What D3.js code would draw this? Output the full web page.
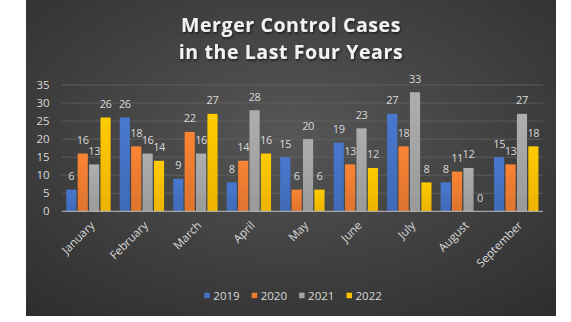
<!DOCTYPE html>
<html>
<head>
<meta charset="utf-8">
<script src="https://cdn.jsdelivr.net/npm/d3@7"></script>
<style>
  body { margin: 0; background: #fff; }
  text { font-family: "Open Sans", sans-serif; }
</style>
</head>
<body>
<div id="chart"></div>
<script>
var months = ["January", "February", "March", "April", "May", "June", "July", "August", "September"];
var years = ["2019", "2020", "2021", "2022"];
var cases2019 = [6, 26, 9, 8, 15, 19, 27, 8, 15];
var cases2020 = [16, 18, 22, 14, 6, 13, 18, 11, 13];
var cases2021 = [13, 16, 16, 28, 20, 23, 33, 12, 27];
var cases2022 = [26, 14, 27, 16, 6, 12, 8, 0, 18];
var yTicks = [0, 5, 10, 15, 20, 25, 30, 35];
var titleLines = ["Merger Control Cases", "in the Last Four Years"];

var colors = ["#4472C4", "#ED7D31", "#A5A5A5", "#FFC000"];
var series = [cases2019, cases2020, cases2021, cases2022];

var W = 571, H = 322;
var panel = {x: 26, y: 0, w: 530, h: 316};
var plot = {left: 61.7, right: 543, top: 85, bottom: 211.3};

var svg = d3.select("#chart")
    .append("svg")
    .attr("width", W)
    .attr("height", H);

var defs = svg.append("defs");

var bg = defs.append("radialGradient")
    .attr("id", "bg")
    .attr("cx", "50%").attr("cy", "42%").attr("r", "75%");
bg.append("stop").attr("offset", "0%").attr("stop-color", "#565656");
bg.append("stop").attr("offset", "100%").attr("stop-color", "#2e2e2e");

colors.forEach(function(c, i){
    var g = defs.append("linearGradient")
        .attr("id", "bar" + i)
        .attr("x1", 0).attr("y1", 0).attr("x2", 0).attr("y2", 1);
    g.append("stop").attr("offset", "0%").attr("stop-color", d3.color(c).brighter(0.15));
    g.append("stop").attr("offset", "100%").attr("stop-color", d3.color(c).darker(0.2));
});

var shadow = defs.append("filter").attr("id", "shadow")
    .attr("x", "-10%").attr("y", "-20%").attr("width", "120%").attr("height", "140%");
shadow.append("feDropShadow")
    .attr("dx", 1).attr("dy", 1.5).attr("stdDeviation", 1)
    .attr("flood-color", "#000").attr("flood-opacity", 0.6);

svg.append("rect")
    .attr("x", panel.x).attr("y", panel.y)
    .attr("width", panel.w).attr("height", panel.h)
    .attr("fill", "url(#bg)");

// title
svg.append("g")
    .selectAll("text")
    .data(titleLines)
    .enter()
    .append("text")
    .attr("x", panel.x + panel.w / 2)
    .attr("y", function(d, i){ return 31.7 + i * 27.6; })
    .attr("text-anchor", "middle")
    .attr("font-size", "19.5px")
    .attr("font-weight", "bold")
    .attr("letter-spacing", "0.6px")
    .attr("fill", "#f2f2f2")
    .attr("filter", "url(#shadow)")
    .text(function(d){ return d; });

var x = d3.scaleBand()
    .domain(months)
    .range([plot.left, plot.right])
    .paddingInner(0.17)
    .paddingOuter(0.085);

var x1 = d3.scaleBand()
    .domain(years)
    .range([0, x.bandwidth()])
    .paddingInner(0.11);

var y = d3.scaleLinear()
    .domain([0, 35])
    .range([plot.bottom, plot.top]);

// gridlines
svg.append("g")
    .selectAll("line")
    .data(yTicks.slice(1))
    .enter()
    .append("line")
    .attr("x1", plot.left).attr("x2", plot.right)
    .attr("y1", function(d){ return y(d); })
    .attr("y2", function(d){ return y(d); })
    .attr("stroke", "#646464")
    .attr("stroke-width", 0.8);

var yAxis = svg.append("g")
    .attr("transform", "translate(" + (plot.left - 12) + ",0)")
    .call(d3.axisLeft(y).tickValues(yTicks).tickSize(0).tickPadding(0));
yAxis.select(".domain").remove();
yAxis.selectAll("text")
    .attr("font-size", "11.5px")
    .attr("fill", "#d9d9d9")
    .attr("font-family", "Open Sans, sans-serif");

// bars
var groups = svg.append("g")
    .selectAll("g")
    .data(months)
    .enter()
    .append("g")
    .attr("transform", function(d){ return "translate(" + x(d) + ",0)"; });

var cells = groups.selectAll("g")
    .data(function(m, mi){
        return years.map(function(yr, si){ return {year: yr, si: si, value: series[si][mi]}; });
    })
    .enter()
    .append("g");

cells.append("rect")
    .attr("x", function(d){ return x1(d.year); })
    .attr("width", x1.bandwidth())
    .attr("y", function(d){ return y(d.value); })
    .attr("height", function(d){ return y(0) - y(d.value); })
    .attr("fill", function(d){ return "url(#bar" + d.si + ")"; });

cells.append("text")
    .attr("x", function(d){ return x1(d.year) + x1.bandwidth() / 2; })
    .attr("y", function(d){ return y(d.value) - 9.5; })
    .attr("text-anchor", "middle")
    .attr("font-size", "11px")
    .attr("letter-spacing", "-0.4px")
    .attr("fill", "#d9d9d9")
    .text(function(d){ return d.value; });

// x axis line
svg.append("line")
    .attr("x1", plot.left).attr("x2", plot.right)
    .attr("y1", y(0)).attr("y2", y(0))
    .attr("stroke", "#bfbfbf")
    .attr("stroke-width", 1);

var xAxis = svg.append("g")
    .attr("transform", "translate(0," + y(0) + ")")
    .call(d3.axisBottom(x).tickSize(0).tickPadding(0));
xAxis.select(".domain").remove();
xAxis.selectAll("text")
    .attr("font-size", "11.5px")
    .attr("fill", "#d9d9d9")
    .attr("font-family", "Open Sans, sans-serif")
    .attr("text-anchor", "end")
    .attr("dy", "0.35em")
    .attr("transform", "translate(4,12) rotate(-45)");

// legend
var legend = svg.append("g")
    .selectAll("g")
    .data(years)
    .enter()
    .append("g")
    .attr("transform", function(d, i){ return "translate(" + (204.3 + i * 47.4) + ",295.5)"; });

legend.append("rect")
    .attr("x", 0).attr("y", -2.8)
    .attr("width", 5.5).attr("height", 5.5)
    .attr("fill", function(d, i){ return colors[i]; });

legend.append("text")
    .attr("x", 9)
    .attr("y", 4)
    .attr("font-size", "11.5px")
    .attr("fill", "#d9d9d9")
    .text(function(d){ return d; });
</script>
</body>
</html>
